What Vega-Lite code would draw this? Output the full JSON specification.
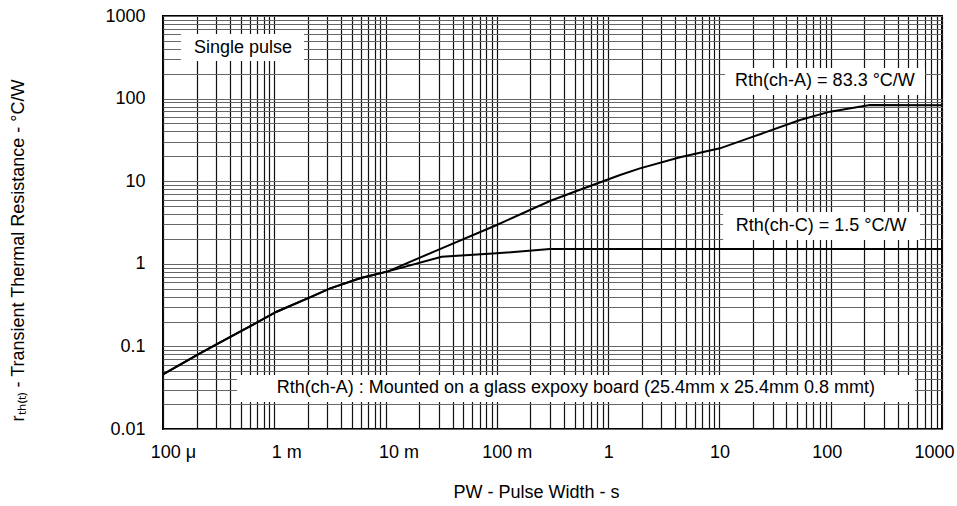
{
  "$schema": "https://vega.github.io/schema/vega-lite/v6.json",
  "width": 779,
  "height": 413,
  "autosize": {"type": "none"},
  "padding": {"left": 163, "top": 16, "right": 15, "bottom": 77},
  "background": "white",
  "config": {
    "view": {"stroke": "#000", "strokeWidth": 2},
    "font": "Liberation Sans",
    "text": {"font": "Liberation Sans"}
  },
  "datasets": {
    "curves": [
      {"series": "ch-A", "t": 0.0001, "r": 0.046},
      {"series": "ch-A", "t": 0.000207, "r": 0.080},
      {"series": "ch-A", "t": 0.000314, "r": 0.109},
      {"series": "ch-A", "t": 0.000527, "r": 0.158},
      {"series": "ch-A", "t": 0.00105, "r": 0.263},
      {"series": "ch-A", "t": 0.00209, "r": 0.393},
      {"series": "ch-A", "t": 0.00314, "r": 0.50},
      {"series": "ch-A", "t": 0.00589, "r": 0.667},
      {"series": "ch-A", "t": 0.0105, "r": 0.81},
      {"series": "ch-A", "t": 0.0319, "r": 1.54},
      {"series": "ch-A", "t": 0.0998, "r": 2.95},
      {"series": "ch-A", "t": 0.30, "r": 5.76},
      {"series": "ch-A", "t": 0.52, "r": 7.6},
      {"series": "ch-A", "t": 1.28, "r": 11.9},
      {"series": "ch-A", "t": 1.93, "r": 14.3},
      {"series": "ch-A", "t": 4.42, "r": 19.5},
      {"series": "ch-A", "t": 10.1, "r": 25},
      {"series": "ch-A", "t": 20.1, "r": 34.6},
      {"series": "ch-A", "t": 53, "r": 55},
      {"series": "ch-A", "t": 98.5, "r": 69.5},
      {"series": "ch-A", "t": 225, "r": 83.5},
      {"series": "ch-A", "t": 1000, "r": 83.3},
      {"series": "ch-C", "t": 0.0001, "r": 0.046},
      {"series": "ch-C", "t": 0.000207, "r": 0.080},
      {"series": "ch-C", "t": 0.000314, "r": 0.109},
      {"series": "ch-C", "t": 0.000527, "r": 0.158},
      {"series": "ch-C", "t": 0.00105, "r": 0.263},
      {"series": "ch-C", "t": 0.00209, "r": 0.393},
      {"series": "ch-C", "t": 0.00314, "r": 0.50},
      {"series": "ch-C", "t": 0.00589, "r": 0.667},
      {"series": "ch-C", "t": 0.0105, "r": 0.81},
      {"series": "ch-C", "t": 0.0319, "r": 1.22},
      {"series": "ch-C", "t": 0.0998, "r": 1.34},
      {"series": "ch-C", "t": 0.30, "r": 1.51},
      {"series": "ch-C", "t": 1000, "r": 1.51}
    ],
    "boxes": [
      {"t": 0.000145, "t2": 0.00185, "r": 605, "r2": 285},
      {"t": 11.2, "t2": 703, "r": 234, "r2": 110.6},
      {"t": 10.8, "t2": 634, "r": 4.24, "r2": 1.94},
      {"t": 0.000462, "t2": 572, "r": 0.0451, "r2": 0.0212}
    ],
    "labels": [
      {"t": 0.000524, "r": 410, "label": "Single pulse"},
      {"t": 88.8, "r": 163, "label": "Rth(ch-A) = 83.3 °C/W"},
      {"t": 81.9, "r": 2.87, "label": "Rth(ch-C) = 1.5 °C/W"},
      {"t": 0.514, "r": 0.0314, "label": "Rth(ch-A) : Mounted on a glass expoxy board (25.4mm x 25.4mm 0.8 mmt)"}
    ]
  },
  "encoding": {
    "x": {
      "field": "t",
      "type": "quantitative",
      "scale": {"type": "log", "domain": [0.0001, 1000], "nice": false},
      "axis": {
        "values": [0.0001,0.0002,0.0003,0.0004,0.0005,0.0006,0.0007,0.0008,0.0009,0.001,0.002,0.003,0.004,0.005,0.006,0.007,0.008,0.009,0.01,0.02,0.03,0.04,0.05,0.06,0.07,0.08,0.09,0.1,0.2,0.3,0.4,0.5,0.6,0.7,0.8,0.9,1,2,3,4,5,6,7,8,9,10,20,30,40,50,60,70,80,90,100,200,300,400,500,600,700,800,900,1000],
        "labelExpr": "datum.value == 0.0001 ? '100 μ' : datum.value == 0.001 ? '1 m' : datum.value == 0.01 ? '10 m' : datum.value == 0.1 ? '100 m' : datum.value == 1 ? '1' : datum.value == 10 ? '10' : datum.value == 100 ? '100' : datum.value == 1000 ? '1000' : ''",
        "labelOffset": {
          "condition": [
            {"test": "datum.value == 0.0001", "value": 10},
            {"test": "datum.value == 0.001", "value": 12},
            {"test": "datum.value == 0.01", "value": 13},
            {"test": "datum.value == 0.1", "value": 10},
            {"test": "datum.value == 100", "value": -4},
            {"test": "datum.value == 1000", "value": -8}
          ],
          "value": 0
        },
        "grid": true,
        "gridColor": "#111",
        "gridWidth": 1.2,
        "ticks": false,
        "domain": false,
        "labelFont": "Liberation Sans",
        "labelFontSize": 18,
        "labelColor": "#000",
        "labelPadding": 14,
        "labelOverlap": false,
        "labelFlush": false,
        "labelBound": false,
        "title": "PW - Pulse Width - s",
        "titleFont": "Liberation Sans",
        "titleFontSize": 18,
        "titleFontWeight": "normal",
        "titleColor": "#000",
        "titlePadding": 22,
        "titleX": 373,
        "titleAlign": "center"
      }
    },
    "y": {
      "field": "r",
      "type": "quantitative",
      "scale": {"type": "log", "domain": [0.01, 1000], "nice": false},
      "axis": {
        "values": [0.01,0.02,0.03,0.04,0.05,0.06,0.07,0.08,0.09,0.1,0.2,0.3,0.4,0.5,0.6,0.7,0.8,0.9,1,2,3,4,5,6,7,8,9,10,20,30,40,50,60,70,80,90,100,200,300,400,500,600,700,800,900,1000],
        "labelExpr": "datum.value == 0.01 ? '0.01' : datum.value == 0.1 ? '0.1' : datum.value == 1 ? '1' : datum.value == 10 ? '10' : datum.value == 100 ? '100' : datum.value == 1000 ? '1000' : ''",
        "grid": true,
        "gridColor": "#666",
        "gridWidth": 1.2,
        "ticks": false,
        "domain": false,
        "labelFont": "Liberation Sans",
        "labelFontSize": 18,
        "labelColor": "#000",
        "labelPadding": 18,
        "labelOverlap": false,
        "labelFlush": false,
        "labelBound": false,
        "title": "rₜₕ₍ₜ₎ - Transient Thermal Resistance - °C/W",
        "titleFont": "Liberation Sans",
        "titleFontSize": 18,
        "titleFontWeight": "normal",
        "titleColor": "#000",
        "titleAngle": 270,
        "titleBaseline": "middle",
        "titleAlign": "center",
        "titleX": -145,
        "titleY": 234
      }
    }
  },
  "layer": [
    {
      "data": {"name": "boxes"},
      "mark": {"type": "rect", "fill": "white", "stroke": null},
      "encoding": {
        "x2": {"field": "t2"},
        "y2": {"field": "r2"}
      }
    },
    {
      "data": {"name": "curves"},
      "mark": {"type": "line", "color": "#000", "strokeWidth": 2},
      "encoding": {
        "detail": {"field": "series", "type": "nominal"}
      }
    },
    {
      "data": {"name": "labels"},
      "mark": {"type": "text", "font": "Liberation Sans", "fontSize": 18, "color": "#000", "align": "center", "baseline": "middle"},
      "encoding": {
        "text": {"field": "label", "type": "nominal"}
      }
    }
  ]
}
